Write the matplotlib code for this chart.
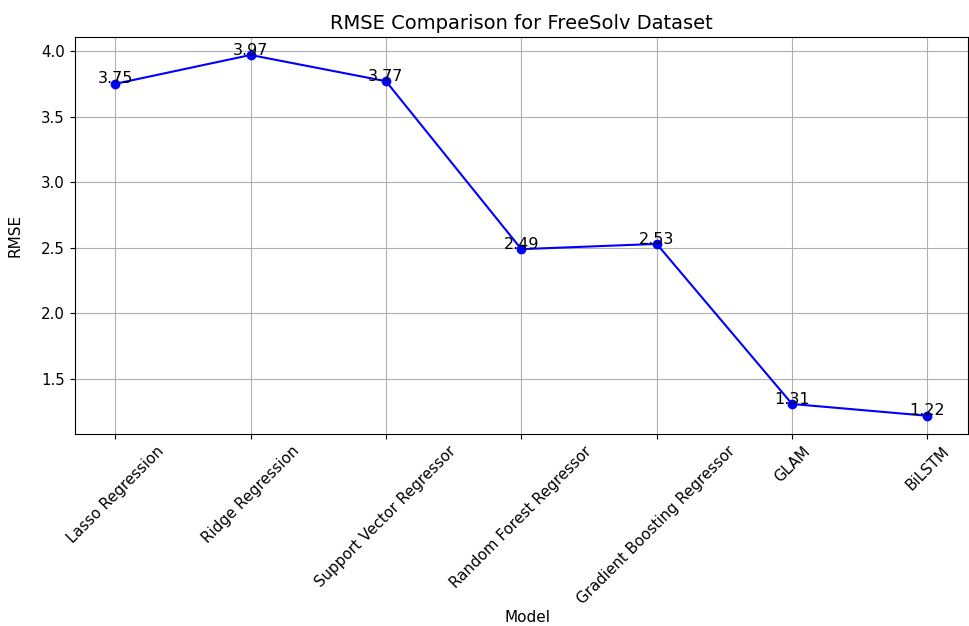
import matplotlib
matplotlib.use("Agg")
import matplotlib.pyplot as plt

models = ["Lasso Regression", "Ridge Regression", "Support Vector Regressor",
          "Random Forest Regressor", "Gradient Boosting Regressor", "GLAM", "BiLSTM"]
rmse = [3.75, 3.97, 3.77, 2.49, 2.53, 1.31, 1.22]

fig = plt.figure(figsize=(9.69, 6.26), dpi=100)
ax = fig.add_axes([0.077, 0.307, 0.922, 0.634])
ax.plot(models, rmse, marker="o", color="blue")
for i, v in enumerate(rmse):
    ax.text(i, v - 0.02, f"{v:.2f}", ha="center", va="bottom", fontsize=11.5)
ax.set_title("RMSE Comparison for FreeSolv Dataset", fontsize=14)
ax.set_xlabel("Model", fontsize=11)
ax.set_ylabel("RMSE", fontsize=11)
ax.xaxis.set_label_coords(0.507, -0.445)
ax.yaxis.set_label_coords(-0.058, 0.5)
ax.tick_params(labelsize=10.8)
ax.grid(True)
plt.setp(ax.get_xticklabels(), rotation=45, ha="center")

fig.savefig("out.png", dpi=100)
